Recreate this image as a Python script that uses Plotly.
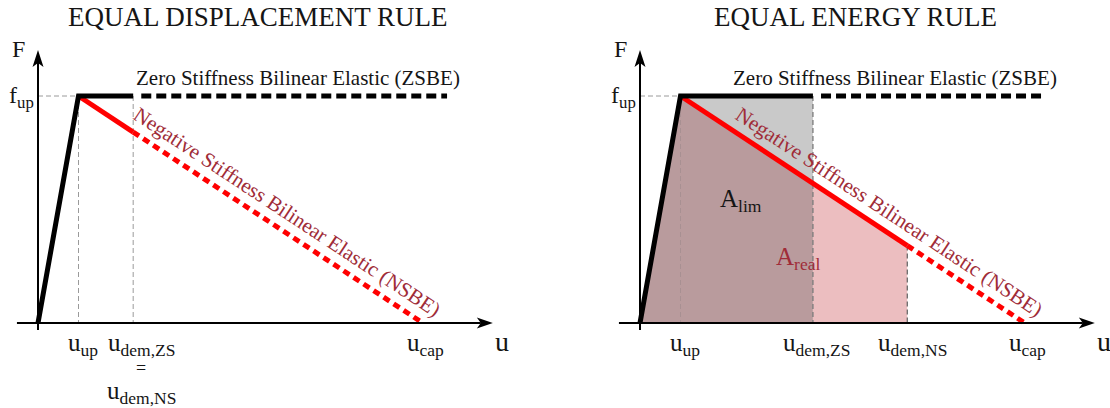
import math
import plotly.graph_objects as go

# ---- model values (displacement in units of u_up, force in units of f_up) ----
F_UP = 1.0
U_UP = 1.0
U_CAP = 9.5

# equal displacement rule
L_U_DEM = 2.35
L_ZSBE_END = 10.1

# equal energy rule
R_U_DEM_ZS = 4.27
R_U_DEM_NS = 6.6
R_ZSBE_END = 9.95

TITLES = ["EQUAL DISPLACEMENT RULE", "EQUAL ENERGY RULE"]
ZSBE_LABEL = "Zero Stiffness Bilinear Elastic (ZSBE)"
NSBE_LABEL = "Negative Stiffness Bilinear Elastic (NSBE)"

# ---- drawing scale ----
W, H = 1110, 408
PX_U = 40.5      # pixels per displacement unit
PX_F = 227.0     # pixels per force unit
ORIGIN_Y = 323   # pixel row of the u axis
ORIGINS_X = [38, 640]
DOMAINS = [(0.0, 0.5), (0.5, 1.0)]

SERIF = "Liberation Serif"
TXT = "#151515"
DARKRED = "#a02c38"
RED = "#ff0000"


def nsbe(u):
    """Force on the negative-stiffness branch."""
    return F_UP * (U_CAP - u) / (U_CAP - U_UP)


fig = go.Figure()


def ax_names(i):
    return ("x", "y") if i == 0 else ("x2", "y2")


def line(i, xs, ys, color, width, dash="solid"):
    xr, yr = ax_names(i)
    fig.add_trace(go.Scatter(x=xs, y=ys, mode="lines", xaxis=xr, yaxis=yr,
                             line=dict(color=color, width=width, dash=dash),
                             hoverinfo="skip", showlegend=False))


def poly(i, xs, ys, color):
    xr, yr = ax_names(i)
    fig.add_trace(go.Scatter(x=xs, y=ys, mode="lines", xaxis=xr, yaxis=yr,
                             fill="toself", fillcolor=color,
                             line=dict(width=0, color=color),
                             hoverinfo="skip", showlegend=False))


def note(i, x, y, text, size, color=TXT, xanchor="center", yanchor="middle",
         angle=0, xshift=0, yshift=0):
    xr, yr = ax_names(i)
    fig.add_annotation(x=x, y=y, xref=xr, yref=yr, text=text, showarrow=False,
                       font=dict(family=SERIF, size=size, color=color),
                       xanchor=xanchor, yanchor=yanchor, textangle=angle,
                       xshift=xshift, yshift=yshift, borderpad=0)


def axes_arrows(i):
    du = 1.0 / PX_U
    df = 1.0 / PX_F
    u_tip = 11.23
    f_tip = 1.203
    # u axis
    line(i, [-0.52, u_tip - 12 * du], [0, 0], "black", 2)
    poly(i, [u_tip, u_tip - 16 * du, u_tip - 12 * du, u_tip - 16 * du, u_tip],
         [0, 5.5 * df, 0, -5.5 * df, 0], "black")
    # F axis
    line(i, [0, 0], [-0.031, f_tip - 12 * df], "black", 2)
    poly(i, [0, 5.5 * du, 0, -5.5 * du, 0],
         [f_tip, f_tip - 17 * df, f_tip - 13 * df, f_tip - 17 * df, f_tip], "black")


GUIDE = dict(width=1, dash="5px,3px")

# ================= left panel: equal displacement =================
i = 0
line(i, [0, U_UP], [F_UP, F_UP], "#9a9a9a", **GUIDE)
line(i, [U_UP, U_UP], [F_UP, 0], "#9a9a9a", **GUIDE)
line(i, [L_U_DEM, L_U_DEM], [F_UP, 0], "#9a9a9a", **GUIDE)

line(i, [U_UP, L_U_DEM], [F_UP, nsbe(L_U_DEM)], RED, 5)
line(i, [L_U_DEM, U_CAP], [nsbe(L_U_DEM), 0], RED, 5, "7px,5px")
line(i, [L_U_DEM + 0.2, L_ZSBE_END], [F_UP, F_UP], "black", 5, "10px,5px")
line(i, [0, U_UP, L_U_DEM], [0, F_UP, F_UP], "black", 5)
axes_arrows(i)

# ================= right panel: equal energy =================
i = 1
poly(i, [0, U_UP, R_U_DEM_ZS, R_U_DEM_ZS, 0],
     [0, F_UP, nsbe(R_U_DEM_ZS), 0, 0], "#b99b9d")
poly(i, [U_UP, R_U_DEM_ZS, R_U_DEM_ZS, U_UP],
     [F_UP, F_UP, nsbe(R_U_DEM_ZS), F_UP], "#c9c9c9")
poly(i, [R_U_DEM_ZS, R_U_DEM_ZS, R_U_DEM_NS, R_U_DEM_NS, R_U_DEM_ZS],
     [0, nsbe(R_U_DEM_ZS), nsbe(R_U_DEM_NS), 0, 0], "#ecbec0")

line(i, [0, U_UP], [F_UP, F_UP], "#9a9a9a", **GUIDE)
line(i, [U_UP, U_UP], [F_UP, 0], "#a89092", **GUIDE)
line(i, [R_U_DEM_ZS, R_U_DEM_ZS], [F_UP, 0], "#7a7a7a", width=1.3, dash="5px,3px")
line(i, [R_U_DEM_NS, R_U_DEM_NS], [nsbe(R_U_DEM_NS), 0], "#6a6a6a", width=1.3, dash="5px,3px")

line(i, [U_UP, R_U_DEM_NS], [F_UP, nsbe(R_U_DEM_NS)], RED, 5)
line(i, [R_U_DEM_NS, U_CAP], [nsbe(R_U_DEM_NS), 0], RED, 5, "7px,5px")
line(i, [R_U_DEM_ZS + 0.2, R_ZSBE_END], [F_UP, F_UP], "black", 5, "10px,5px")
line(i, [0, U_UP, R_U_DEM_ZS], [0, F_UP, F_UP], "black", 5)
axes_arrows(i)

# ================= text =================
angle = math.degrees(math.atan((F_UP * PX_F) / ((U_CAP - U_UP) * PX_U)))


def py(v):
    return (ORIGIN_Y - v) / PX_F


for i in range(2):
    note(i, 0, py(49), "F", 24, xanchor="center", xshift=-20)
    note(i, 0, F_UP, "f<sub>up</sub>", 24, xanchor="right", xshift=-3, yshift=-1)
    note(i, 11.5, py(341), "u", 28, xanchor="center", xshift=-2)
    note(i, U_UP, py(328), "u<sub>up</sub>", 25, yanchor="top", xshift=4)
    note(i, U_CAP, py(328), "u<sub>cap</sub>", 25, yanchor="top", xshift=3)
    note(i, 6.15, py(212), NSBE_LABEL, 21, color=DARKRED, angle=angle)

note(0, L_U_DEM, py(328), "u<sub>dem,ZS</sub>", 25, yanchor="top", xshift=8)
note(0, L_U_DEM, py(368), "=", 18, xshift=8)
note(0, L_U_DEM, py(376), "u<sub>dem,NS</sub>", 25, yanchor="top", xshift=8)
note(1, R_U_DEM_ZS, py(328), "u<sub>dem,ZS</sub>", 25, yanchor="top", xshift=4)
note(1, R_U_DEM_NS, py(328), "u<sub>dem,NS</sub>", 25, yanchor="top", xshift=5)
note(1, 2.5, py(200), "A<sub>lim</sub>", 25)
note(1, 3.9, py(258), "A<sub>real</sub>", 25, color=DARKRED)

note(0, 6.42, py(78), ZSBE_LABEL, 21)
note(1, 6.3, py(78), ZSBE_LABEL, 21)

for t, cx in zip(TITLES, [258, 855]):
    fig.add_annotation(x=cx / W, y=1 - 17 / H, xref="paper", yref="paper",
                       text=t, showarrow=False, xanchor="center", yanchor="middle",
                       font=dict(family=SERIF, size=27, color=TXT))

# ---- axes: fixed pixel scale, hidden ----
for i, name in enumerate(["xaxis", "xaxis2"]):
    x0px = DOMAINS[i][0] * W
    x1px = DOMAINS[i][1] * W
    ox = ORIGINS_X[i]
    fig.layout[name] = dict(domain=list(DOMAINS[i]),
                            range=[(x0px - ox) / PX_U, (x1px - ox) / PX_U],
                            visible=False, fixedrange=True)
for name, anchor in [("yaxis", "x"), ("yaxis2", "x2")]:
    fig.layout[name] = dict(domain=[0, 1], anchor=anchor,
                            range=[(ORIGIN_Y - H) / PX_F, ORIGIN_Y / PX_F],
                            visible=False, fixedrange=True)
fig.layout.xaxis2.anchor = "y2"
fig.layout.xaxis.anchor = "y"

fig.update_layout(width=W, height=H, margin=dict(l=0, r=0, t=0, b=0),
                  paper_bgcolor="white", plot_bgcolor="rgba(0,0,0,0)",
                  font=dict(family=SERIF),
                  showlegend=False)

fig.write_html("out.html", config={"displayModeBar": False})
